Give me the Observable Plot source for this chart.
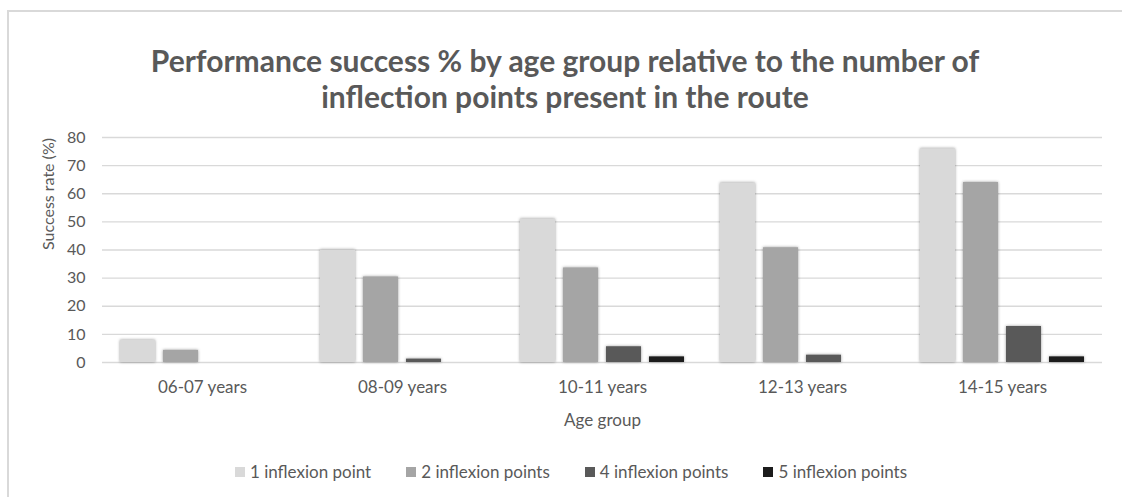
<!DOCTYPE html>
<html>
<head>
<meta charset="utf-8">
<script src="https://cdn.jsdelivr.net/npm/d3@7"></script>
<script src="https://cdn.jsdelivr.net/npm/@observablehq/plot@0.6"></script>
<style>
html,body{margin:0;padding:0;background:#fff;overflow:hidden;width:1122px;height:497px;}
#frame{position:absolute;left:7px;top:10px;width:1140px;height:520px;border:2px solid #d9d9d9;box-sizing:border-box;}
#title{position:absolute;left:0;top:42px;width:1130px;text-align:center;font-family:Lato,sans-serif;font-weight:bold;font-size:30px;color:#595959;line-height:36px;}
#chart{position:absolute;left:0;top:120px;}
#legend{position:absolute;top:461px;left:0;width:1142px;display:flex;justify-content:center;gap:35px;font-family:Lato,sans-serif;font-size:17px;color:#595959;}
#legend .item{display:flex;align-items:center;}
#legend .sw{display:inline-block;width:10px;height:10px;margin-right:5px;}
#chart g[aria-label="bar"] rect{filter:drop-shadow(0px 0px 1.5px rgba(0,0,0,0.4));}
</style>
</head>
<body>
<div id="frame"></div>
<div id="title">Performance success % by age group relative to the number of<br>inflection points present in the route</div>
<div id="chart"></div>
<div id="legend"></div>
<script>
const ageGroups = ["06-07 years", "08-09 years", "10-11 years", "12-13 years", "14-15 years"];
const seriesNames = ["1 inflexion point", "2 inflexion points", "4 inflexion points", "5 inflexion points"];
const seriesColors = ["#d9d9d9", "#a5a5a5", "#595959", "#1c1c1c"];
const onePoint = [7.9, 40, 51, 63.8, 76];
const twoPoints = [4.3, 30.4, 33.6, 40.8, 64];
const fourPoints = [0, 1.2, 5.6, 2.6, 12.8];
const fivePoints = [0, 0, 2, 0, 2];
const yTicks = [0, 10, 20, 30, 40, 50, 60, 70, 80];
const yLabel = "Success rate (%)";
const xLabel = "Age group";

const seriesValues = [onePoint, twoPoints, fourPoints, fivePoints];
const data = ageGroups.flatMap((g, i) =>
  seriesNames.map((s, j) => ({group: g, series: s, value: seriesValues[j][i]}))
);

const chart = Plot.plot({
  width: 1122,
  height: 317,
  marginTop: 17,
  marginBottom: 75,
  marginLeft: 100,
  marginRight: 19,
  style: {fontFamily: "Lato, sans-serif", fontSize: "16px", color: "#595959", background: "transparent"},
  fx: {domain: ageGroups, padding: 0, axis: null},
  x: {domain: seriesNames, paddingInner: 0.18, paddingOuter: 0.375, axis: null},
  y: {domain: [0, 80], axis: null},
  color: {domain: seriesNames, range: seriesColors},
  marks: [
    Plot.gridY(yTicks, {stroke: "#d9d9d9", strokeOpacity: 1, strokeWidth: 1.3}),
    Plot.barY(data, {fx: "group", x: "series", y: "value", fill: "series"}),
    Plot.axisY(yTicks, {tickSize: 0, tickPadding: 17, label: null, fill: "#595959", fontSize: 16}),
    Plot.text([{fx: ageGroups[0], t: yLabel}], {fx: "fx", text: "t", frameAnchor: "left", rotate: -90, dx: -54, fill: "#595959", fontSize: 16}),
    Plot.axisFx({anchor: "bottom", tickSize: 0, tickPadding: 18, label: xLabel, labelAnchor: "center", labelOffset: 63, fill: "#595959", fontSize: 17})
  ]
});
document.getElementById("chart").appendChild(chart);

const legend = document.getElementById("legend");
seriesNames.forEach((s, i) => {
  const item = document.createElement("div");
  item.className = "item";
  const sw = document.createElement("span");
  sw.className = "sw";
  sw.style.background = seriesColors[i];
  const t = document.createElement("span");
  t.textContent = s;
  item.appendChild(sw);
  item.appendChild(t);
  legend.appendChild(item);
});
</script>
</body>
</html>
